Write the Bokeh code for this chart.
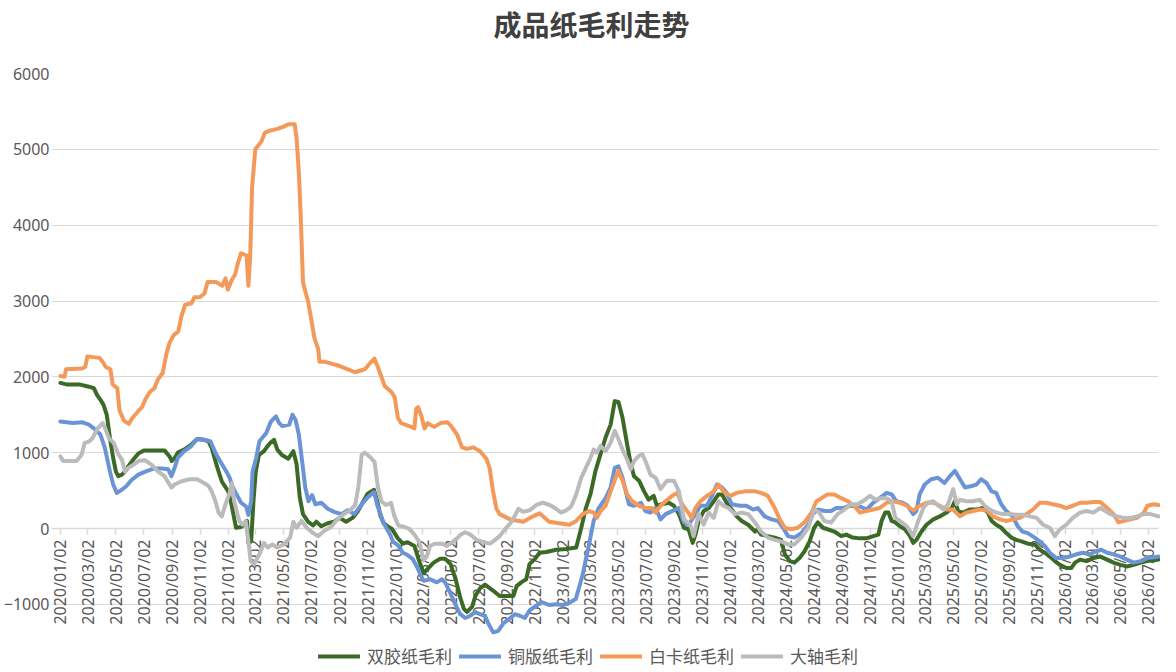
import pandas as pd
from math import pi
from datetime import datetime
from bokeh.plotting import figure
from bokeh.models import Range1d, FixedTicker, DatetimeTickFormatter, Legend, LegendItem, Title
from bokeh.embed import file_html
from bokeh.resources import INLINE

# ---------------- data ----------------
title_text = "成品纸毛利走势"
series_names = ["双胶纸毛利", "铜版纸毛利", "白卡纸毛利", "大轴毛利"]

tick_labels = [f"{y}/{m:02d}/02" for y in range(2020, 2027) for m in (1, 3, 5, 7, 9, 11)][:40]
y_ticks = [-1000, 0, 1000, 2000, 3000, 4000, 5000, 6000]

shuangjiao_dates = [
    "2020-01-02","2020-01-15","2020-02-12","2020-03-04","2020-03-15","2020-03-22","2020-03-29","2020-04-05",
    "2020-04-12","2020-04-19","2020-04-26","2020-05-02","2020-05-07","2020-05-15","2020-05-22","2020-05-29",
    "2020-06-09","2020-06-20","2020-07-02","2020-08-16","2020-08-27","2020-09-01","2020-09-07","2020-09-14",
    "2020-09-28","2020-10-12","2020-10-26","2020-11-10","2020-11-20","2020-11-27","2020-12-05","2020-12-12",
    "2020-12-19","2021-01-02","2021-01-09","2021-01-16","2021-01-19","2021-01-30","2021-02-06","2021-02-12",
    "2021-02-15","2021-02-21","2021-02-26","2021-03-03","2021-03-10","2021-03-21","2021-03-28","2021-04-04",
    "2021-04-12","2021-04-19","2021-04-29","2021-05-13","2021-05-24","2021-05-31","2021-06-07","2021-06-14",
    "2021-06-25","2021-07-06","2021-07-13","2021-07-24","2021-08-07","2021-08-21","2021-09-02","2021-09-16",
    "2021-09-30","2021-10-11","2021-10-22","2021-11-02","2021-11-16","2021-11-23","2021-11-30","2021-12-07",
    "2021-12-18","2021-12-25","2022-01-07","2022-01-18","2022-01-28","2022-02-12","2022-02-22","2022-03-04",
    "2022-03-15","2022-03-26","2022-04-09","2022-04-20","2022-05-02","2022-05-13","2022-05-23","2022-05-31",
    "2022-06-07","2022-06-18","2022-06-25","2022-07-05","2022-07-16","2022-07-27","2022-08-07","2022-08-17",
    "2022-09-02","2022-09-16","2022-09-23","2022-10-03","2022-10-14","2022-10-21","2022-11-02","2022-11-12",
    "2022-11-27","2022-12-18","2023-01-09","2023-01-31","2023-02-11","2023-02-21","2023-03-03","2023-03-14",
    "2023-03-25","2023-04-05","2023-04-16","2023-04-25","2023-05-03","2023-05-12","2023-05-22","2023-05-30",
    "2023-06-06","2023-06-17","2023-06-28","2023-07-08","2023-07-19","2023-07-26","2023-08-06","2023-08-21",
    "2023-09-01","2023-09-12","2023-09-23","2023-10-03","2023-10-12","2023-10-18","2023-10-25","2023-11-05",
    "2023-11-16","2023-11-27","2023-12-07","2023-12-15","2023-12-25","2024-01-05","2024-01-16","2024-01-27",
    "2024-02-10","2024-02-25","2024-03-02","2024-03-09","2024-03-24","2024-04-08","2024-04-22","2024-04-30",
    "2024-05-11","2024-05-21","2024-06-01","2024-06-12","2024-06-23","2024-07-03","2024-07-11","2024-07-22",
    "2024-08-01","2024-08-16","2024-08-31","2024-09-11","2024-09-25","2024-10-11","2024-10-25","2024-11-09",
    "2024-11-20","2024-11-27","2024-12-05","2024-12-12","2024-12-19","2024-12-27","2025-01-06","2025-01-17",
    "2025-01-28","2025-02-04","2025-02-11","2025-02-22","2025-03-05","2025-03-20","2025-04-03","2025-04-18",
    "2025-04-29","2025-05-06","2025-05-13","2025-05-24","2025-06-07","2025-06-22","2025-07-06","2025-07-17",
    "2025-07-25","2025-08-04","2025-08-15","2025-08-26","2025-09-06","2025-09-17","2025-09-28","2025-10-12",
    "2025-10-27","2025-11-07","2025-11-18","2025-11-29","2025-12-10","2025-12-21","2026-01-04","2026-01-15",
    "2026-01-23","2026-02-03","2026-02-17","2026-03-04","2026-03-19","2026-04-03","2026-04-17","2026-05-02",
    "2026-05-16","2026-05-31","2026-06-15","2026-06-29","2026-07-14","2026-07-24",
]
shuangjiao_vals = [
    1920,1900,1900,1870,1850,1760,1700,1630,
    1500,1190,930,750,690,710,750,820,
    910,990,1030,1030,950,890,930,1000,
    1040,1100,1180,1170,1150,1060,890,750,
    620,490,320,100,10,20,50,100,
    -190,-170,360,750,970,1020,1080,1130,
    1170,1040,970,920,1020,850,410,190,
    90,40,90,30,70,90,140,90,
    140,220,340,460,510,360,170,70,
    20,-5,-130,-200,-180,-230,-420,-590,
    -520,-450,-400,-400,-470,-670,-910,-1060,
    -1100,-1030,-890,-790,-740,-790,-840,-890,
    -890,-890,-760,-710,-670,-470,-400,-320,
    -310,-280,-270,-250,10,270,450,760,
    980,1200,1370,1680,1670,1460,1110,850,
    690,630,490,380,430,300,320,340,
    300,190,10,-10,-190,-80,100,230,
    270,360,450,450,340,250,160,100,
    50,-40,-10,-80,-100,-120,-150,-340,
    -430,-450,-390,-300,-170,10,80,10,
    -10,-40,-100,-80,-120,-130,-130,-100,
    -80,100,210,210,100,80,30,-10,
    -100,-190,-150,-40,50,120,160,210,
    270,360,230,210,250,250,270,210,
    100,50,10,-60,-120,-150,-170,-200,
    -210,-280,-320,-370,-430,-480,-520,-520,
    -450,-410,-430,-390,-370,-410,-450,-480,
    -500,-480,-450,-430,-420,-410,
]

tongban_dates = [
    "2020-01-02","2020-01-29","2020-02-19","2020-03-04","2020-03-15","2020-03-29","2020-04-08","2020-04-19",
    "2020-04-26","2020-05-04","2020-05-15","2020-05-25","2020-06-05","2020-06-20","2020-07-05","2020-07-23",
    "2020-08-09","2020-08-24","2020-08-31","2020-09-07","2020-09-14","2020-09-28","2020-10-12","2020-10-26",
    "2020-11-10","2020-11-24","2020-12-05","2020-12-15","2020-12-29","2021-01-05","2021-01-12","2021-01-23",
    "2021-01-30","2021-02-10","2021-02-15","2021-02-21","2021-02-24","2021-03-04","2021-03-11","2021-03-26",
    "2021-04-05","2021-04-16","2021-04-23","2021-04-30","2021-05-15","2021-05-22","2021-05-29","2021-06-05",
    "2021-06-12","2021-06-19","2021-06-26","2021-07-04","2021-07-11","2021-07-24","2021-08-07","2021-08-21",
    "2021-09-06","2021-09-20","2021-10-04","2021-10-19","2021-11-02","2021-11-16","2021-11-23","2021-12-07",
    "2021-12-21","2021-12-28","2022-01-07","2022-01-18","2022-01-28","2022-02-08","2022-02-19","2022-02-26",
    "2022-03-04","2022-03-19","2022-04-02","2022-04-13","2022-04-20","2022-05-02","2022-05-13","2022-05-23",
    "2022-06-03","2022-06-14","2022-06-25","2022-07-05","2022-07-16","2022-07-23","2022-08-03","2022-08-14",
    "2022-08-25","2022-09-09","2022-09-19","2022-09-30","2022-10-11","2022-10-21","2022-11-02","2022-11-16",
    "2022-12-04","2022-12-18","2023-01-02","2023-01-16","2023-01-30","2023-02-14","2023-02-28","2023-03-10",
    "2023-03-21","2023-04-05","2023-04-16","2023-04-25","2023-05-03","2023-05-12","2023-05-19","2023-05-26",
    "2023-06-06","2023-06-21","2023-07-01","2023-07-12","2023-07-23","2023-08-03","2023-08-14","2023-08-28",
    "2023-09-12","2023-09-23","2023-10-03","2023-10-18","2023-10-29","2023-11-12","2023-11-23","2023-12-04",
    "2023-12-15","2023-12-25","2024-01-05","2024-01-23","2024-02-06","2024-02-21","2024-03-02","2024-03-17",
    "2024-04-01","2024-04-15","2024-04-26","2024-05-07","2024-05-21","2024-06-05","2024-06-20","2024-06-30",
    "2024-07-11","2024-07-26","2024-08-09","2024-08-20","2024-09-04","2024-09-18","2024-10-11","2024-10-25",
    "2024-11-09","2024-11-23","2024-12-08","2024-12-19","2024-12-29","2025-01-12","2025-01-23","2025-02-04",
    "2025-02-11","2025-02-18","2025-03-01","2025-03-15","2025-03-30","2025-04-13","2025-04-25","2025-05-06",
    "2025-05-17","2025-05-28","2025-06-11","2025-06-22","2025-07-02","2025-07-14","2025-07-25","2025-08-04",
    "2025-08-15","2025-08-26","2025-09-09","2025-09-20","2025-09-30","2025-10-12","2025-10-27","2025-11-07",
    "2025-11-18","2025-11-29","2025-12-13","2025-12-28","2026-01-11","2026-01-26","2026-02-09","2026-02-24",
    "2026-03-10","2026-03-21","2026-04-03","2026-04-17","2026-05-02","2026-05-16","2026-05-31","2026-06-15",
    "2026-06-29","2026-07-14","2026-07-24",
]
tongban_vals = [
    1410,1390,1400,1370,1320,1240,1060,750,
    580,470,510,560,640,710,750,790,
    790,780,690,800,930,1020,1080,1180,
    1170,1150,1000,890,750,670,540,420,
    340,290,180,360,750,930,1150,1260,
    1410,1480,1390,1350,1370,1500,1430,1240,
    890,540,360,440,320,340,260,220,
    190,240,190,310,410,480,310,70,
    -80,-180,-220,-320,-350,-400,-520,-620,
    -690,-670,-710,-670,-710,-860,-1010,-1130,
    -1180,-1150,-1100,-1130,-1150,-1250,-1370,-1350,
    -1250,-1180,-1130,-1150,-1180,-1080,-1030,-970,
    -1010,-1000,-1010,-980,-930,-610,-210,100,
    270,400,540,800,820,670,490,320,
    300,340,230,210,270,120,190,230,
    270,80,50,190,300,300,430,580,
    540,470,320,300,300,250,270,160,
    120,100,10,-100,-120,-60,50,190,
    250,230,230,270,270,300,290,250,
    340,400,470,450,360,340,300,190,
    230,450,580,650,670,600,690,760,
    650,540,560,580,650,600,490,470,
    320,230,160,30,-40,-60,-120,-170,
    -230,-320,-390,-390,-370,-340,-320,-340,
    -300,-280,-320,-340,-370,-410,-450,-430,
    -390,-380,-370,
]

baika_dates = [
    "2020-01-02","2020-01-11","2020-01-14","2020-02-18","2020-02-25","2020-03-01","2020-03-27","2020-04-03",
    "2020-04-10","2020-04-20","2020-04-25","2020-05-05","2020-05-10","2020-05-20","2020-05-30","2020-06-06",
    "2020-06-20","2020-06-28","2020-07-05","2020-07-15","2020-07-25","2020-08-01","2020-08-12","2020-08-20",
    "2020-08-27","2020-09-05","2020-09-15","2020-09-22","2020-09-30","2020-10-14","2020-10-20","2020-11-01",
    "2020-11-11","2020-11-18","2020-12-06","2020-12-20","2020-12-27","2021-01-01","2021-01-10","2021-01-17",
    "2021-01-23","2021-01-30","2021-02-11","2021-02-15","2021-02-19","2021-02-23","2021-03-02","2021-03-15",
    "2021-03-23","2021-04-05","2021-04-19","2021-05-03","2021-05-13","2021-05-27","2021-05-31","2021-06-05",
    "2021-06-09","2021-06-14","2021-06-18","2021-06-25","2021-07-02","2021-07-09","2021-07-17","2021-07-20",
    "2021-07-31","2021-08-29","2021-09-20","2021-10-05","2021-10-27","2021-11-10","2021-11-17","2021-11-25",
    "2021-12-09","2021-12-24","2021-12-31","2022-01-07","2022-01-14","2022-02-05","2022-02-12","2022-02-16",
    "2022-02-20","2022-02-27","2022-03-06","2022-03-13","2022-03-27","2022-04-10","2022-04-25","2022-05-02",
    "2022-05-16","2022-05-27","2022-06-06","2022-06-21","2022-07-05","2022-07-19","2022-07-26","2022-08-02",
    "2022-08-10","2022-08-17","2022-09-09","2022-10-08","2022-10-22","2022-11-12","2022-12-03","2022-12-18",
    "2023-01-16","2023-01-31","2023-02-14","2023-02-28","2023-03-10","2023-03-17","2023-03-25","2023-04-05",
    "2023-04-16","2023-04-27","2023-05-03","2023-05-12","2023-05-22","2023-06-02","2023-06-17","2023-07-01",
    "2023-07-16","2023-07-23","2023-08-03","2023-08-14","2023-08-28","2023-09-08","2023-09-19","2023-09-30",
    "2023-10-10","2023-10-18","2023-10-29","2023-11-12","2023-11-27","2023-12-07","2023-12-18","2024-01-02",
    "2024-01-16","2024-02-03","2024-02-25","2024-03-09","2024-03-24","2024-04-08","2024-04-19","2024-04-30",
    "2024-05-14","2024-05-28","2024-06-12","2024-06-27","2024-07-08","2024-07-19","2024-08-01","2024-08-16",
    "2024-08-31","2024-09-14","2024-09-28","2024-10-11","2024-10-25","2024-11-09","2024-11-23","2024-12-08",
    "2024-12-22","2025-01-06","2025-01-21","2025-02-04","2025-02-18","2025-03-05","2025-03-20","2025-04-03",
    "2025-04-18","2025-05-02","2025-05-17","2025-05-31","2025-06-15","2025-06-29","2025-07-14","2025-07-28",
    "2025-08-12","2025-08-26","2025-09-10","2025-09-24","2025-10-09","2025-10-23","2025-11-07","2025-11-21",
    "2025-12-06","2025-12-21","2026-01-04","2026-01-18","2026-02-03","2026-02-17","2026-03-04","2026-03-19",
    "2026-04-03","2026-04-17","2026-04-28","2026-05-09","2026-05-24","2026-06-07","2026-06-22","2026-06-30",
    "2026-07-14","2026-07-24",
]
baika_vals = [
    2010,2000,2100,2110,2130,2270,2250,2200,
    2130,2100,1900,1850,1550,1420,1380,1450,
    1550,1600,1700,1800,1850,1960,2050,2300,
    2450,2550,2600,2800,2950,2970,3050,3050,
    3100,3250,3250,3200,3300,3150,3280,3350,
    3500,3630,3600,3200,3600,4500,5000,5100,
    5220,5250,5270,5300,5330,5330,5150,4700,
    4130,3250,3150,3000,2760,2510,2370,2200,
    2200,2150,2100,2060,2100,2200,2240,2120,
    1880,1800,1730,1460,1390,1340,1320,1580,
    1600,1490,1320,1390,1340,1390,1400,1360,
    1240,1070,1050,1070,1020,920,800,510,
    260,190,120,90,140,200,90,75,
    50,100,190,230,210,140,230,300,
    490,670,760,630,450,360,300,270,
    270,210,300,360,430,470,320,230,
    140,270,360,430,490,580,490,430,
    470,490,490,470,430,270,120,10,
    -10,10,80,210,360,400,450,450,
    400,360,300,210,230,250,270,340,
    360,340,300,240,300,340,340,300,
    250,250,160,210,230,250,240,160,
    120,100,120,140,190,250,340,340,
    320,300,270,300,340,340,350,350,
    270,190,80,100,120,140,210,300,
    320,310,
]

dazhou_dates = [
    "2020-01-02","2020-01-08","2020-02-06","2020-02-17","2020-02-24","2020-03-05","2020-03-12","2020-03-23",
    "2020-04-03","2020-04-10","2020-04-17","2020-04-27","2020-05-08","2020-05-15","2020-05-22","2020-05-29",
    "2020-06-09","2020-06-20","2020-07-05","2020-07-19","2020-08-02","2020-08-16","2020-08-31","2020-09-07",
    "2020-09-21","2020-10-09","2020-10-26","2020-11-10","2020-11-20","2020-11-27","2020-12-05","2020-12-12",
    "2020-12-19","2020-12-27","2021-01-05","2021-01-10","2021-01-15","2021-01-26","2021-02-02","2021-02-09",
    "2021-02-14","2021-02-20","2021-02-27","2021-03-11","2021-03-21","2021-03-29","2021-04-08","2021-04-19",
    "2021-05-03","2021-05-17","2021-05-24","2021-05-31","2021-06-11","2021-06-22","2021-07-06","2021-07-17",
    "2021-07-31","2021-08-14","2021-08-28","2021-09-11","2021-09-25","2021-10-06","2021-10-13","2021-10-20",
    "2021-10-27","2021-11-06","2021-11-17","2021-11-24","2021-12-02","2021-12-12","2021-12-23","2021-12-30",
    "2022-01-08","2022-01-22","2022-02-01","2022-02-12","2022-02-23","2022-03-04","2022-03-11","2022-03-18",
    "2022-03-29","2022-04-13","2022-04-24","2022-05-06","2022-05-16","2022-05-24","2022-06-03","2022-06-14",
    "2022-06-28","2022-07-13","2022-07-27","2022-08-07","2022-08-17","2022-09-02","2022-09-12","2022-09-27",
    "2022-10-07","2022-10-21","2022-11-05","2022-11-19","2022-12-04","2022-12-18","2022-12-29","2023-01-09",
    "2023-01-20","2023-01-31","2023-02-11","2023-02-21","2023-03-03","2023-03-10","2023-03-17","2023-03-25",
    "2023-04-05","2023-04-16","2023-04-25","2023-05-03","2023-05-12","2023-05-22","2023-05-30","2023-06-06",
    "2023-06-17","2023-06-24","2023-07-01","2023-07-12","2023-07-23","2023-08-03","2023-08-17","2023-09-01",
    "2023-09-12","2023-09-23","2023-10-07","2023-10-14","2023-10-25","2023-11-05","2023-11-16","2023-11-27",
    "2023-12-07","2023-12-18","2023-12-29","2024-01-12","2024-01-27","2024-02-10","2024-02-25","2024-03-09",
    "2024-03-24","2024-04-08","2024-04-22","2024-05-07","2024-05-21","2024-06-05","2024-06-20","2024-07-03",
    "2024-07-14","2024-07-25","2024-08-09","2024-08-23","2024-09-07","2024-09-21","2024-10-06","2024-10-22",
    "2024-11-02","2024-11-13","2024-11-23","2024-12-08","2024-12-19","2024-12-27","2025-01-06","2025-01-21",
    "2025-02-04","2025-02-15","2025-02-26","2025-03-08","2025-03-20","2025-03-31","2025-04-11","2025-04-21",
    "2025-05-02","2025-05-10","2025-05-17","2025-05-31","2025-06-15","2025-06-29","2025-07-10","2025-07-21",
    "2025-08-04","2025-08-19","2025-09-03","2025-09-17","2025-10-02","2025-10-16","2025-10-31","2025-11-14",
    "2025-11-29","2025-12-10","2025-12-21","2026-01-04","2026-01-18","2026-02-03","2026-02-17","2026-03-04",
    "2026-03-19","2026-03-30","2026-04-10","2026-04-25","2026-05-09","2026-05-24","2026-06-07","2026-06-22",
    "2026-07-06","2026-07-24",
]
dazhou_vals = [
    950,890,890,970,1130,1150,1190,1320,
    1390,1300,1190,1130,970,910,750,800,
    840,890,900,840,750,690,540,580,
    620,650,650,600,560,490,360,210,
    160,320,470,600,360,100,50,100,
    -120,-430,-470,-340,-190,-250,-210,-250,
    -210,-120,90,10,100,10,-60,-100,
    -30,20,120,190,240,310,560,970,
    1000,950,880,560,360,310,340,170,
    40,20,-5,-80,-180,-420,-370,-230,
    -200,-200,-230,-180,-130,-80,-50,-80,
    -150,-180,-200,-150,-100,20,90,260,
    220,240,310,340,310,260,210,240,
    290,450,670,800,930,1040,1000,1090,
    1020,1130,1290,1180,1040,910,780,890,
    960,980,890,710,670,520,630,630,
    490,120,50,-100,190,50,210,140,
    360,300,270,190,210,190,80,-40,
    -120,-150,-170,-210,-210,-120,10,250,
    210,100,80,190,250,320,320,380,
    430,380,400,400,360,140,100,30,
    -100,100,270,340,360,300,250,320,
    520,320,380,360,360,380,300,250,
    210,190,190,180,180,160,140,50,
    10,-100,-10,50,140,210,230,210,
    270,230,190,160,140,140,160,190,
    190,160,
]

series = [
    (shuangjiao_dates, shuangjiao_vals, "#3b6a27"),
    (tongban_dates, tongban_vals, "#6a94d6"),
    (baika_dates, baika_vals, "#f39a5b"),
    (dazhou_dates, dazhou_vals, "#bbbbbb"),
]

# ---------------- figure ----------------
# small lead-in before the first date so the first rotated tick label is not clipped
x_start = datetime(2019, 12, 13, 12)
x_end = datetime(2026, 7, 24)

p = figure(
    width=1160, height=668,
    x_axis_type="datetime",
    x_range=Range1d(x_start, x_end),
    y_range=Range1d(-1846, 6000),
    output_backend="svg",
    toolbar_location=None,
    min_border_left=43, min_border_right=2, min_border_top=73, min_border_bottom=0,
    background_fill_color="white", border_fill_color="white",
)
p.outline_line_color = None

# spacer (nearest the frame), then the real title above it
spacer = Title(text=" ", text_font_size="2px", standoff=26, text_color="white")
p.add_layout(spacer, "above")
main_title = Title(
    text=title_text, align="left", offset=442, standoff=0,
    text_font="Noto Sans CJK SC", text_font_size="28px",
    text_font_style="bold", text_color="#404040",
)
p.add_layout(main_title, "above")

renderers = []
for d, v, c in series:
    r = p.line(pd.to_datetime(d), v, line_width=4, line_color=c,
               line_join="round", line_cap="round", level="overlay")
    renderers.append(r)

# y axis
p.yaxis.ticker = FixedTicker(ticks=y_ticks)
p.ygrid.ticker = FixedTicker(ticks=y_ticks)
p.ygrid.grid_line_color = "#d9d9d9"
p.ygrid.grid_line_width = 1
p.yaxis.axis_line_color = None
p.yaxis.major_tick_line_color = None
p.yaxis.minor_tick_line_color = None
p.yaxis.major_tick_out = 0
p.yaxis.major_label_standoff = 2
p.yaxis.major_label_text_font = "Noto Sans"
p.yaxis.major_label_text_font_size = "16px"
p.yaxis.major_label_text_color = "#595959"

# x axis at y = 0
tick_ms = [pd.Timestamp(pd.to_datetime(t, format="%Y/%m/%d")).value // 10**6 for t in tick_labels]
p.xaxis.ticker = FixedTicker(ticks=tick_ms)
fmt = "%Y/%m/%d"
p.xaxis.formatter = DatetimeTickFormatter(
    milliseconds=fmt, seconds=fmt, minsec=fmt, minutes=fmt, hourmin=fmt,
    hours=fmt, days=fmt, months=fmt, years=fmt)
p.xaxis.fixed_location = 0
p.xgrid.visible = False
p.xaxis.axis_line_color = "#d9d9d9"
p.xaxis.axis_line_width = 1.5
p.xaxis.major_tick_line_color = "#d9d9d9"
p.xaxis.major_tick_line_width = 1.5
p.xaxis.major_tick_out = 6
p.xaxis.major_tick_in = 0
p.xaxis.minor_tick_line_color = None
p.xaxis.major_label_orientation = pi / 2
p.xaxis.major_label_standoff = 5
p.xaxis.major_label_text_font = "Noto Sans"
p.xaxis.major_label_text_font_size = "16px"
p.xaxis.major_label_text_color = "#595959"

legend = Legend(
    items=[LegendItem(label=n, renderers=[r]) for n, r in zip(series_names, renderers)],
    orientation="horizontal",
    location=(267, 0),
    glyph_width=42, glyph_height=20,
    label_standoff=7, spacing=7, padding=0, margin=0,
    border_line_color=None, background_fill_alpha=0,
    label_text_font="Noto Sans CJK SC", label_text_font_size="17px",
    label_text_color="#595959",
)
p.add_layout(legend)

open("out.html", "w").write(file_html(p, INLINE))
